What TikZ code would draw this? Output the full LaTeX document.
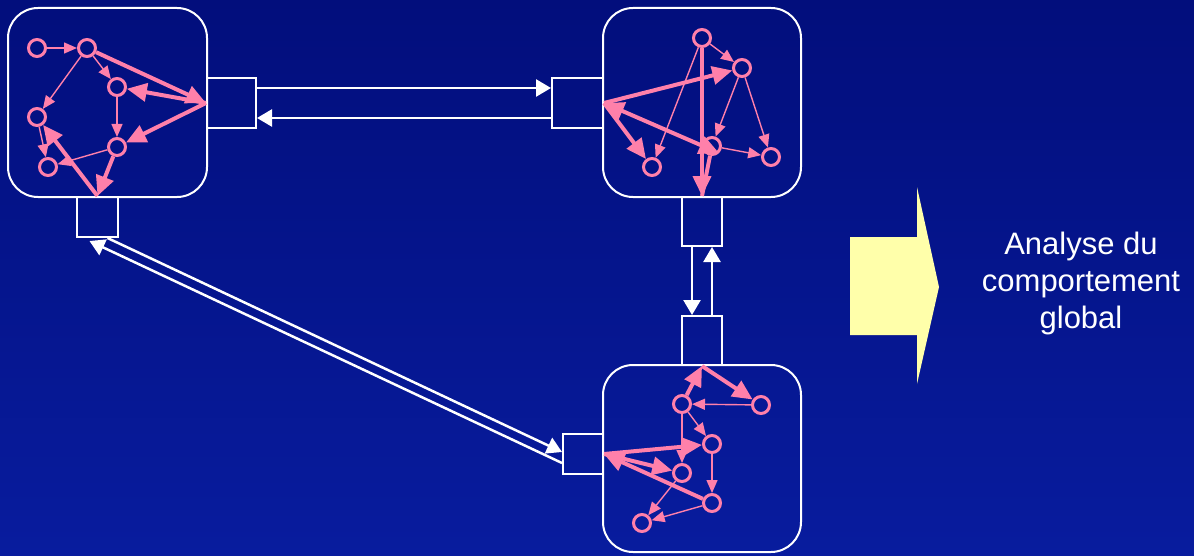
\documentclass[tikz,border=0pt]{standalone}
\usepackage{fontspec}
\setmainfont{Liberation Sans}
\usetikzlibrary{calc}
\usetikzlibrary{arrows.meta}

\definecolor{navytop}{RGB}{2,14,124}
\definecolor{navybot}{RGB}{8,28,158}
\definecolor{rose}{RGB}{255,128,170}
\definecolor{pale}{RGB}{255,255,170}

\begin{document}
\begin{tikzpicture}[x=0.5pt,y=-0.5pt,
    state/.style={circle,draw=rose,line width=1.5pt,minimum size=8.5pt,inner sep=0pt},
    module/.style={draw=white,line width=1pt,rounded corners=15pt,inner sep=0pt},
    port/.style={rectangle,draw=white,line width=1pt,inner sep=0pt},
    minor/.style={draw=rose,line width=0.7pt,-{Triangle[length=6.5pt,width=5.5pt]}},
    major/.style={draw=rose,line width=2pt,-{Triangle[length=10pt,width=9pt]}},
    link/.style={draw=white,line width=1.25pt,-{Triangle[length=7.5pt,width=8.5pt]}}]
            % Background
            \useasboundingbox (0,0) rectangle (1194,556);
            \shade[top color=navytop,bottom color=navybot] (0,0) rectangle (1194,556);

            % The three modules and their ports
            \node[module,minimum width=99.5pt,minimum height=94.5pt] (m1) at (107.5,102.5) {};
            \node[module,minimum width=99pt,minimum height=94.5pt] (m2) at (702,102.5) {};
            \node[module,minimum width=99pt,minimum height=93.5pt] (m3) at (702,458.5) {};
            \node[port,minimum width=24.5pt,minimum height=25pt] (p1r) at (231.5,103) {};
            \node[port,minimum width=20.5pt,minimum height=20pt] (p1b) at (97.5,217) {};
            \node[port,minimum width=25.5pt,minimum height=25pt] (p2l) at (577.5,103) {};
            \node[port,minimum width=20pt,minimum height=24.5pt] (p2b) at (702,221.5) {};
            \node[port,minimum width=20pt,minimum height=24.5pt] (p3t) at (702,340.5) {};
            \node[port,minimum width=20pt,minimum height=20pt] (p3l) at (583,454) {};

            % States of the first module
            \node[state] (a1) at (37,48) {};
            \node[state] (a2) at (87,48) {};
            \node[state] (a3) at (117,87) {};
            \node[state] (a4) at (37,117) {};
            \node[state] (a5) at (117,147) {};
            \node[state] (a6) at (48,167) {};

            % States of the second module
            \node[state] (b1) at (702,38) {};
            \node[state] (b2) at (742,68) {};
            \node[state] (b3) at (712,146) {};
            \node[state] (b4) at (771,157) {};
            \node[state] (b5) at (652,167) {};

            % States of the third module
            \node[state] (c1) at (682,404) {};
            \node[state] (c2) at (761,405) {};
            \node[state] (c3) at (712,444) {};
            \node[state] (c4) at (682,473) {};
            \node[state] (c5) at (712,503) {};
            \node[state] (c6) at (642,523) {};

            % Transitions inside the modules
            \draw[minor] (a1) -- (a2);
            \draw[minor] (a2) -- (a3);
            \draw[minor] (a2) -- (a4);
            \draw[minor] (a3) -- (a5);
            \draw[minor] (a4) -- (a6);
            \draw[minor] (a5) -- (a6);
            \draw[major] (a2) -- (p1r.west);
            \draw[major] (p1r.west) -- (a3);
            \draw[major] (p1r.west) -- (a5);
            \draw[major] (a5) -- (p1b.north);
            \draw[major] (p1b.north) -- (a4);

            \draw[minor] (b1) -- (b2);
            \draw[minor] (b1) -- (b5);
            \draw[minor] (b2) -- (b3);
            \draw[minor] (b2) -- (b4);
            \draw[minor] (b3) -- (b4);
            \draw[major] (p2l.east) -- (b2);
            \draw[major] (p2l.east) -- (b5);
            \draw[major,{Triangle[length=10pt,width=9pt]}-{Triangle[length=10pt,width=9pt]}] (p2l.east) -- (b3.south east);
            \draw[major] (b1) -- (p2b.north);
            \draw[major,-] (b3) -- (p2b.north);

            \draw[minor] (c2) -- (c1);
            \draw[minor] (c1) -- (c3);
            \draw[minor] (c1) -- (c4);
            \draw[minor] (c3) -- (c5);
            \draw[minor] (c5) -- (c6);
            \draw[minor] (c4) -- (c6);
            \draw[major] (c1) -- (p3t.south);
            \draw[major] (p3t.south) -- (c2);
            \draw[major] (p3l.east) -- (c3);
            \draw[major] (p3l.east) -- (c4);
            \draw[major] (c5) -- (p3l.east);

            % The links between the modules
            \draw[link] ($(p1r.east)+(0,-15)$) -- ($(p2l.west)+(0,-15)$);
            \draw[link] ($(p2l.west)+(0,15)$) -- ($(p1r.east)+(0,15)$);
            \draw[link] ($(p2b.south)+(-10,0)$) -- ($(p3t.north)+(-10,0)$);
            \draw[link] ($(p3t.north)+(10,0)$) -- ($(p2b.south)+(10,0)$);
            \draw[link] ($(p1b.south)+(10,0)$) -- ($(p3l.west)+(0,-2)$);
            \draw[link] ($(p3l.west)+(0,9)$) -- ($(p1b.south)+(-8,3)$);

            % The big arrow and the result
            \fill[pale] (850,237) -- (917,237) -- (917,187) -- (939,287) -- (917,384) -- (917,335) -- (850,335) -- cycle;
            \node[text=white,align=center,font=\fontsize{15.5}{18.5}\selectfont] (analyse) at (1081,283) {Analyse du\\comportement\\global};
\end{tikzpicture}
\end{document}
